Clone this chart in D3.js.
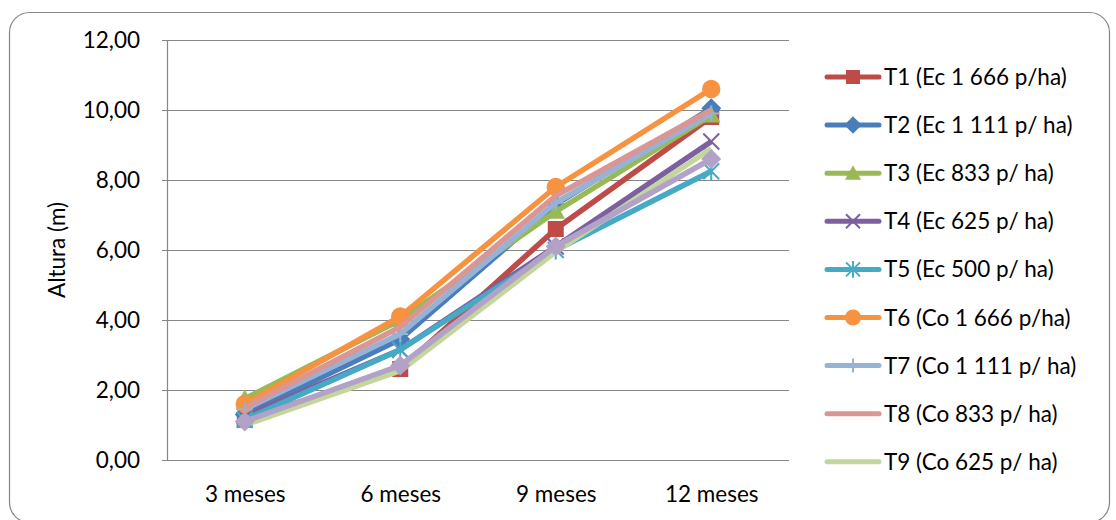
<!DOCTYPE html>
<html>
<head>
<meta charset="utf-8">
<script src="https://cdn.jsdelivr.net/npm/d3@7"></script>
<style>
  html, body { margin: 0; padding: 0; background: #ffffff; }
  svg { display: block; font-family: Lato, "Open Sans", sans-serif; }
</style>
</head>
<body>
<svg id="chart" width="1116" height="520"></svg>
<script>
// Categories (age of the stand)
const categories = ["3 meses", "6 meses", "9 meses", "12 meses"];

// Y axis tick values and labels
const yTicks = [0, 2, 4, 6, 8, 10, 12];
const yTickLabels = ["0,00", "2,00", "4,00", "6,00", "8,00", "10,00", "12,00"];

// Series names
const seriesNames = [
  "T1 (Ec 1 666 p/ha)", "T2 (Ec 1 111 p/ ha)", "T3 (Ec 833 p/ ha)",
  "T4 (Ec 625 p/ ha)", "T5 (Ec 500 p/ ha)", "T6 (Co 1 666 p/ha)",
  "T7 (Co 1 111 p/ ha)", "T8 (Co 833 p/ ha)", "T9 (Co 625 p/ ha)", "T10"
];

// Height (m) per treatment at 3, 6, 9, 12 months
const t1 = [1.15, 2.60, 6.60, 9.80];
const t2 = [1.30, 3.45, 7.30, 10.05];
const t3 = [1.75, 4.00, 7.10, 9.85];
const t4 = [1.25, 3.15, 6.10, 9.10];
const t5 = [1.15, 3.15, 6.00, 8.25];
const t6 = [1.60, 4.10, 7.80, 10.60];
const t7 = [1.45, 3.60, 7.35, 9.90];
const t8 = [1.50, 3.80, 7.55, 10.00];
const t9 = [1.00, 2.55, 5.95, 8.90];
const t10 = [1.10, 2.70, 6.10, 8.60];
const seriesValues = [t1, t2, t3, t4, t5, t6, t7, t8, t9, t10];

// Styling per series
const colors = ["#BE4B48", "#4A7EBB", "#98B954", "#7D60A0", "#46AAC5",
                "#F69240", "#95B3D7", "#D99694", "#C3D69B", "#B3A2C7"];
const markers = ["square", "diamond", "triangle", "x", "asterisk",
                 "circle", "plus", "none", "none", "diamond"];
const legendCount = 9;

const FONT_SIZE = 22.5;
const svg = d3.select("#chart");

// Outer chart frame
svg.append("rect")
  .attr("x", 9.5).attr("y", 12.5)
  .attr("width", 1100).attr("height", 510)
  .attr("rx", 20).attr("ry", 20)
  .attr("fill", "#fff")
  .attr("stroke", "#868686").attr("stroke-width", 1.2);

const plot = { left: 167, right: 789, top: 40, bottom: 460 };

const x = d3.scalePoint()
  .domain(categories)
  .range([plot.left, plot.right])
  .padding(0.5);

const y = d3.scaleLinear()
  .domain([0, 12])
  .range([plot.bottom, plot.top]);

// Horizontal gridlines + y axis
const yAxis = d3.axisLeft(y)
  .tickValues(yTicks)
  .tickSize(-(plot.right - plot.left))
  .tickPadding(27)
  .tickFormat((d, i) => yTickLabels[i]);

const gy = svg.append("g")
  .attr("transform", `translate(${plot.left},0)`)
  .call(yAxis);
gy.select(".domain").remove();
gy.selectAll(".tick line")
  .attr("x1", -5)
  .attr("stroke", "#868686").attr("stroke-width", 1.2);
gy.selectAll(".tick text")
  .attr("fill", "#000").attr("font-size", FONT_SIZE)
  .attr("font-family", "Lato, 'Open Sans', sans-serif");

// Vertical axis line
svg.append("line")
  .attr("x1", plot.left + 0.5).attr("x2", plot.left + 0.5)
  .attr("y1", plot.top).attr("y2", plot.bottom)
  .attr("stroke", "#868686").attr("stroke-width", 1.2);

// Category labels
const xAxis = d3.axisBottom(x).tickSize(0).tickPadding(26);
const gx = svg.append("g")
  .attr("transform", `translate(0,${plot.bottom})`)
  .call(xAxis);
gx.select(".domain").remove();
gx.selectAll(".tick text")
  .attr("fill", "#000").attr("font-size", FONT_SIZE)
  .attr("font-family", "Lato, 'Open Sans', sans-serif");

// Y axis title
svg.append("text")
  .attr("transform", `translate(65,${(plot.top + plot.bottom) / 2}) rotate(-90)`)
  .attr("text-anchor", "middle")
  .attr("font-size", FONT_SIZE)
  .attr("fill", "#000")
  .text("Altura (m)");

// Marker drawing
function drawMarker(g, type, cx, cy, color, s) {
  const h = s / 2;
  if (type === "square") {
    g.append("rect").attr("x", cx - h).attr("y", cy - h)
      .attr("width", s).attr("height", s).attr("fill", color);
  } else if (type === "diamond") {
    const r = h * 1.25;
    g.append("path")
      .attr("d", `M${cx},${cy - r}L${cx + r},${cy}L${cx},${cy + r}L${cx - r},${cy}Z`)
      .attr("fill", color);
  } else if (type === "triangle") {
    const r = h * 1.15;
    g.append("path")
      .attr("d", `M${cx},${cy - r}L${cx + r},${cy + r * 0.8}L${cx - r},${cy + r * 0.8}Z`)
      .attr("fill", color);
  } else if (type === "circle") {
    g.append("circle").attr("cx", cx).attr("cy", cy).attr("r", h * 1.15).attr("fill", color);
  } else if (type === "x") {
    g.append("path")
      .attr("d", `M${cx - h},${cy - h}L${cx + h},${cy + h}M${cx - h},${cy + h}L${cx + h},${cy - h}`)
      .attr("stroke", color).attr("stroke-width", 2).attr("fill", "none");
  } else if (type === "asterisk") {
    g.append("path")
      .attr("d", `M${cx - h},${cy - h}L${cx + h},${cy + h}M${cx - h},${cy + h}L${cx + h},${cy - h}M${cx},${cy - h * 1.2}L${cx},${cy + h * 1.2}`)
      .attr("stroke", color).attr("stroke-width", 2).attr("fill", "none");
  } else if (type === "plus") {
    g.append("path")
      .attr("d", `M${cx - h},${cy}L${cx + h},${cy}M${cx},${cy - h}L${cx},${cy + h}`)
      .attr("stroke", color).attr("stroke-width", 2).attr("fill", "none");
  }
}

// Series lines with markers
const line = d3.line()
  .x((d, i) => x(categories[i]))
  .y(d => y(d));

seriesValues.forEach((vals, si) => {
  const g = svg.append("g").attr("class", "series");
  g.append("path")
    .datum(vals)
    .attr("d", line)
    .attr("fill", "none")
    .attr("stroke", colors[si])
    .attr("stroke-width", 5.5)
    .attr("stroke-linejoin", "round")
    .attr("stroke-linecap", "butt");
  vals.forEach((v, i) => {
    drawMarker(g, markers[si], x(categories[i]), y(v), colors[si], 16);
  });
});

// Legend
const legend = svg.append("g");
const legendTop = 77;
const legendStep = 48.1;
seriesNames.slice(0, legendCount).forEach((name, i) => {
  const ly = legendTop + i * legendStep;
  const g = legend.append("g");
  g.append("line")
    .attr("x1", 827).attr("x2", 879)
    .attr("y1", ly).attr("y2", ly)
    .attr("stroke", colors[i]).attr("stroke-width", 5)
    .attr("stroke-linecap", "round");
  drawMarker(g, markers[i], 853, ly, colors[i], 14);
  g.append("text")
    .attr("x", 884).attr("y", ly + 8)
    .attr("font-size", FONT_SIZE)
    .attr("fill", "#000")
    .text(name);
});
</script>
</body>
</html>
